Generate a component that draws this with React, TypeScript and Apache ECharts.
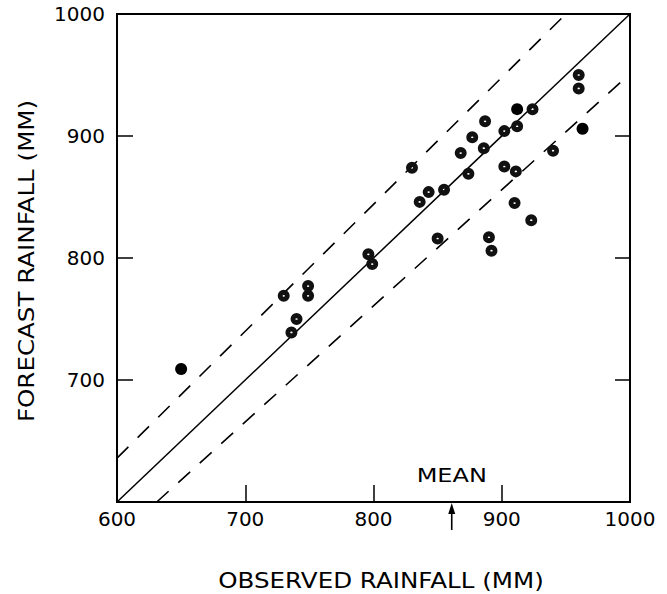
import React, { useEffect, useRef } from "react";
import * as echarts from "echarts";

// Observed (x) / forecast (y) rainfall, mm — points drawn with a speckled interior
const hatchedObserved = [960, 960, 924, 912, 887, 902, 877, 886, 868, 940, 830, 874, 902, 911, 843, 855, 836, 910, 923, 850, 890, 892, 796, 799, 749, 749, 730, 740, 736];
const hatchedForecast = [950, 939, 922, 908, 912, 904, 899, 890, 886, 888, 874, 869, 875, 871, 854, 856, 846, 845, 831, 816, 817, 806, 803, 795, 777, 769, 769, 750, 739];
// Solid black points
const filledObserved = [912, 963, 650];
const filledForecast = [922, 906, 709];

// Reference lines
const perfectLine = [[600, 600], [1000, 1000]];
const upperBand = [[600, 636], [950, 1000]];
const lowerBand = [[631, 600], [1000, 951]];

const MEAN_OBSERVED = 861;
const AXIS_MIN = 600;
const AXIS_MAX = 1000;
const AXIS_STEP = 100;

const FONT = "DejaVu Sans";

const holeSymbol =
  "path://M0,10 A10,10 0 1,1 20,10 A10,10 0 1,1 0,10 Z M8,10 A2,1.4 0 1,0 12,10 A2,1.4 0 1,0 8,10 Z";

export default function App() {
  const ref = useRef<HTMLDivElement>(null);

  useEffect(() => {
    document.body.style.margin = "0";
    const chart = echarts.init(ref.current!, null, { renderer: "svg" });
    const hatched = hatchedObserved.map((x, i) => [x, hatchedForecast[i]]);
    const filled = filledObserved.map((x, i) => [x, filledForecast[i]]);

    const tick = (len: number) => ({
      show: true,
      inside: true,
      length: len,
      lineStyle: { color: "#000", width: 1.5 },
    });
    const plain = (v: number) => String(v);

    chart.setOption({
      animation: false,
      backgroundColor: "#fff",
      grid: {
        left: 117,
        top: 14,
        width: 513,
        height: 488,
        show: true,
        borderColor: "#000",
        borderWidth: 2,
        backgroundColor: "transparent",
      },
      xAxis: {
        type: "value",
        min: AXIS_MIN,
        max: AXIS_MAX,
        interval: AXIS_STEP,
        axisLine: { show: false },
        axisTick: tick(17),
        splitLine: { show: false },
        axisLabel: {
          margin: 7,
          color: "#000",
          fontSize: 20,
          fontFamily: FONT,
          formatter: plain,
        },
      },
      yAxis: [
        {
          type: "value",
          min: AXIS_MIN,
          max: AXIS_MAX,
          interval: AXIS_STEP,
          position: "left",
          axisLine: { show: false },
          axisTick: tick(16),
          splitLine: { show: false },
          axisLabel: {
            showMinLabel: false,
            margin: 12,
            color: "#000",
            fontSize: 20,
            fontFamily: FONT,
            formatter: plain,
          },
        },
        {
          type: "value",
          min: AXIS_MIN,
          max: AXIS_MAX,
          interval: AXIS_STEP,
          position: "right",
          axisLine: { show: false },
          axisTick: tick(15),
          splitLine: { show: false },
          axisLabel: { show: false },
        },
      ],
      series: [
        {
          type: "line",
          data: perfectLine,
          symbol: "none",
          lineStyle: { color: "#000", width: 1.5 },
          z: 2,
        },
        {
          type: "line",
          data: upperBand,
          symbol: "none",
          lineStyle: { color: "#000", width: 1.6, type: [16, 13] },
          z: 2,
        },
        {
          type: "line",
          data: lowerBand,
          symbol: "none",
          lineStyle: { color: "#000", width: 1.6, type: [16, 13] },
          z: 2,
        },
        {
          type: "scatter",
          data: hatched,
          symbol: holeSymbol,
          symbolSize: 12,
          itemStyle: { color: "#111", opacity: 1 },
          z: 3,
        },
        {
          type: "scatter",
          data: filled,
          symbol: "circle",
          symbolSize: 12,
          itemStyle: { color: "#000", opacity: 1 },
          z: 3,
        },
      ],
    });

    const [mx, my] = chart.convertToPixel({ xAxisIndex: 0, yAxisIndex: 0 }, [MEAN_OBSERVED, AXIS_MIN]) as number[];

    chart.setOption({
      graphic: [
        {
          type: "text",
          x: mx,
          y: my - 27,
          scaleX: 1.2,
          style: {
            text: "MEAN",
            fontSize: 20,
            fontFamily: FONT,
            fill: "#000",
            align: "center",
            verticalAlign: "middle",
          },
        },
        {
          type: "line",
          shape: { x1: mx, y1: my + 28, x2: mx, y2: my + 8 },
          style: { stroke: "#000", lineWidth: 1.6 },
        },
        {
          type: "polygon",
          shape: { points: [[mx, my + 1], [mx - 3.5, my + 12], [mx + 3.5, my + 12]] },
          style: { fill: "#000" },
        },
        {
          type: "text",
          x: 381,
          y: 581,
          scaleX: 1.17,
          style: {
            text: "OBSERVED RAINFALL (MM)",
            fontSize: 21,
            fontFamily: FONT,
            fill: "#000",
            align: "center",
            verticalAlign: "middle",
          },
        },
        {
          type: "text",
          x: 27,
          y: 261,
          rotation: Math.PI / 2,
          scaleX: 1.17,
          style: {
            text: "FORECAST RAINFALL (MM)",
            fontSize: 21,
            fontFamily: FONT,
            fill: "#000",
            align: "center",
            verticalAlign: "middle",
          },
        },
      ],
    });

    return () => chart.dispose();
  }, []);

  return <div ref={ref} style={{ width: 667, height: 594 }} />;
}
